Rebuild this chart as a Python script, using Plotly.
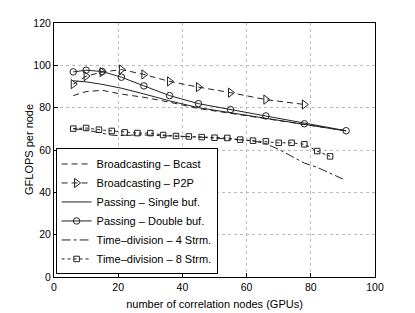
import plotly.graph_objects as go

x_tri = [6, 10, 15, 21, 28, 36, 45, 55, 66, 78, 91]
bcast = [85.7, 87.6, 88.2, 86.4, 84.9, 82.6, 79.6, 77.3, 74.5, 72.0, 69.1]
x_p2p = [6, 10, 15, 21, 28, 36, 45, 55, 66, 78]
p2p = [91.1, 94.9, 96.8, 98.0, 95.7, 92.4, 89.7, 87.1, 83.8, 81.5]
single = [92.7, 92.2, 91.0, 89.2, 86.5, 83.2, 80.0, 77.7, 75.0, 72.1, 69.0]
double = [96.9, 97.7, 97.1, 94.4, 90.3, 85.7, 81.9, 79.1, 76.1, 72.4, 69.1]
x_4s = [6, 10, 14, 18, 22, 26, 30, 34, 38, 42, 46, 50, 54, 58, 62, 66, 70, 74, 78, 82, 86, 90]
s4 = [70.0, 69.5, 68.2, 67.0, 66.8, 67.2, 67.0, 66.8, 66.4, 66.2, 66.0, 65.6, 65.3, 64.8, 64.3, 63.0, 60.3, 57.0, 53.8, 51.8, 49.0, 46.3]
x_8s = [6, 10, 14, 18, 22, 26, 30, 34, 38, 42, 46, 50, 54, 58, 62, 66, 70, 74, 78, 82, 86]
s8 = [70.1, 70.4, 69.6, 69.0, 68.3, 68.0, 68.0, 67.1, 66.6, 66.4, 66.1, 65.8, 65.7, 64.9, 64.4, 64.1, 63.4, 63.4, 62.7, 59.5, 57.0]

C = "#222222"
fig = go.Figure()
fig.add_trace(go.Scatter(x=x_tri, y=bcast, mode="lines", name="Broadcasting – Bcast",
                         line=dict(color=C, width=1, dash="6px,4px")))
fig.add_trace(go.Scatter(x=x_p2p, y=p2p, mode="lines+markers", name="Broadcasting – P2P",
                         line=dict(color=C, width=1, dash="6px,4px"),
                         marker=dict(symbol="triangle-right-open", size=8, color=C, line=dict(width=1))))
fig.add_trace(go.Scatter(x=x_tri, y=single, mode="lines", name="Passing – Single buf.",
                         line=dict(color=C, width=1)))
fig.add_trace(go.Scatter(x=x_tri, y=double, mode="lines+markers", name="Passing – Double buf.",
                         line=dict(color=C, width=1),
                         marker=dict(symbol="circle-open", size=6.5, color=C, line=dict(width=1))))
fig.add_trace(go.Scatter(x=x_4s, y=s4, mode="lines", name="Time–division – 4 Strm.",
                         line=dict(color=C, width=1, dash="dashdot")))
fig.add_trace(go.Scatter(x=x_8s, y=s8, mode="lines+markers", name="Time–division – 8 Strm.",
                         line=dict(color=C, width=1, dash="dot"),
                         marker=dict(symbol="square-open", size=5.5, color=C, line=dict(width=1))))

axis_common = dict(showline=True, linecolor="black", linewidth=1, mirror=True,
                   ticks="inside", ticklen=4, tickcolor="black", automargin=False,
                   showgrid=True, gridcolor="#bbbbbb", griddash="dot", gridwidth=1,
                   zeroline=False, tickfont=dict(size=10.5, color="black"))
fig.update_layout(
    width=415, height=313,
    margin=dict(l=46, r=48, t=15, b=44),
    paper_bgcolor="white", plot_bgcolor="white",
    font=dict(family="Liberation Sans, Arial, sans-serif", size=11, color="black"),
    xaxis=dict(range=[0, 100], dtick=20,
               title=dict(text="number of correlation nodes (GPUs)", font=dict(size=11), standoff=8),
               **axis_common),
    yaxis=dict(range=[0, 120], dtick=20, **axis_common),
    legend=dict(x=0.005, y=0.01, xanchor="left", yanchor="bottom",
                bgcolor="white", bordercolor="black", borderwidth=1,
                font=dict(size=11), tracegroupgap=0, itemwidth=30),
    showlegend=True,
)
fig.add_annotation(text="GFLOPS per node", xref="paper", yref="paper", x=0, y=0.5,
                   xanchor="center", yanchor="middle", xshift=-25, textangle=-90,
                   showarrow=False, font=dict(size=11, color="black"))
fig.write_html("out.html")
